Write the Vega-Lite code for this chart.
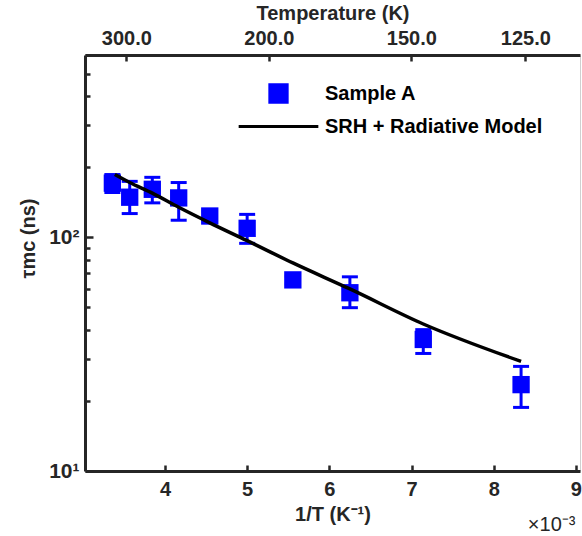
{
  "$schema": "https://vega.github.io/schema/vega-lite/v6.json",
  "width": 495,
  "height": 416,
  "autosize": "none",
  "padding": {"left": 85, "top": 55, "right": 2, "bottom": 65},
  "background": "white",
  "config": {
    "view": {"stroke": "#d0d0d0", "strokeWidth": 1},
    "font": "Liberation Sans",
    "axis": {
      "domainColor": "#262626", "domainWidth": 3, "tickColor": "#262626", "tickWidth": 2.5,
      "labelColor": "#262626", "labelFont": "Liberation Sans", "labelFontWeight": "bold", "labelFontSize": 20,
      "titleColor": "#262626", "titleFont": "Liberation Sans", "titleFontWeight": "bold", "titleFontSize": 20,
      "grid": false
    }
  },
  "title": {"text": "×10⁻³", "orient": "bottom", "anchor": "end", "fontSize": 20, "fontWeight": "normal", "color": "#262626", "offset": -9, "dx": -6},
  "datasets": {
    "sample": [
      {"invT": 3.36, "tau": 170, "lo": 155, "hi": 185, "series": "Sample A"},
      {"invT": 3.571, "tau": 148, "lo": 126, "hi": 173, "series": "Sample A"},
      {"invT": 3.846, "tau": 160, "lo": 140, "hi": 180, "series": "Sample A"},
      {"invT": 4.167, "tau": 147, "lo": 118, "hi": 171, "series": "Sample A"},
      {"invT": 4.545, "tau": 123, "lo": 117, "hi": 129, "series": "Sample A"},
      {"invT": 5.0, "tau": 109, "lo": 94, "hi": 125, "series": "Sample A"},
      {"invT": 5.556, "tau": 65.6, "lo": 63, "hi": 68, "series": "Sample A"},
      {"invT": 6.25, "tau": 57.8, "lo": 49.9, "hi": 67.6, "series": "Sample A"},
      {"invT": 7.143, "tau": 36.5, "lo": 31.8, "hi": 40.2, "series": "Sample A"},
      {"invT": 8.333, "tau": 23.4, "lo": 18.7, "hi": 28.0, "series": "Sample A"}
    ],
    "model": [
      {"invT": 3.39, "tau": 185, "series": "SRH + Radiative Model"},
      {"invT": 3.571, "tau": 171, "series": "SRH + Radiative Model"},
      {"invT": 3.846, "tau": 154, "series": "SRH + Radiative Model"},
      {"invT": 4.167, "tau": 134, "series": "SRH + Radiative Model"},
      {"invT": 4.545, "tau": 115, "series": "SRH + Radiative Model"},
      {"invT": 5.0, "tau": 96.5, "series": "SRH + Radiative Model"},
      {"invT": 5.556, "tau": 77.5, "series": "SRH + Radiative Model"},
      {"invT": 6.25, "tau": 60, "series": "SRH + Radiative Model"},
      {"invT": 7.143, "tau": 42.5, "series": "SRH + Radiative Model"},
      {"invT": 8.333, "tau": 29.4, "series": "SRH + Radiative Model"}
    ],
    "topticks": [
      {"invT": 3.3333, "T": 300},
      {"invT": 5.0, "T": 200},
      {"invT": 6.6667, "T": 150},
      {"invT": 8.0, "T": 125}
    ]
  },
  "layer": [
    {
      "layer": [
        {
          "data": {"name": "sample"},
          "mark": {"type": "rule", "strokeWidth": 3, "color": "#0000ff"},
          "encoding": {
            "x": {"field": "invT", "type": "quantitative"},
            "y": {"field": "lo", "type": "quantitative"},
            "y2": {"field": "hi"}
          }
        },
        {
          "data": {"name": "sample"},
          "mark": {"type": "tick", "orient": "horizontal", "size": 16, "thickness": 3, "color": "#0000ff", "opacity": 1},
          "encoding": {
            "x": {"field": "invT", "type": "quantitative"},
            "y": {"field": "lo", "type": "quantitative"}
          }
        },
        {
          "data": {"name": "sample"},
          "mark": {"type": "tick", "orient": "horizontal", "size": 16, "thickness": 3, "color": "#0000ff", "opacity": 1},
          "encoding": {
            "x": {"field": "invT", "type": "quantitative"},
            "y": {"field": "hi", "type": "quantitative"}
          }
        },
        {
          "data": {"name": "sample"},
          "mark": {"type": "point", "shape": "square", "filled": true, "size": 300, "opacity": 1, "strokeWidth": 0},
          "encoding": {
            "x": {"field": "invT", "type": "quantitative"},
            "y": {"field": "tau", "type": "quantitative"},
            "color": {"field": "series", "type": "nominal"}
          }
        },
        {
          "data": {"name": "model"},
          "mark": {"type": "line", "strokeWidth": 3.5, "interpolate": "monotone"},
          "encoding": {
            "x": {"field": "invT", "type": "quantitative",
              "scale": {"domain": [3.027, 9.05], "nice": false, "zero": false},
              "axis": {"orient": "bottom", "values": [4, 5, 6, 7, 8, 9], "format": "d", "tickSize": -6, "labelPadding": 14, "title": "1/T (K⁻¹)", "titlePadding": 5}
            },
            "y": {"field": "tau", "type": "quantitative",
              "scale": {"type": "log", "domain": [10, 600], "nice": false},
              "axis": {"values": [10, 20, 30, 40, 50, 60, 70, 80, 90, 100, 200, 300, 400, 500, 600],
                "labelExpr": "datum.value == 10 ? '10¹' : datum.value == 100 ? '10²' : ''",
                "tickSize": {"condition": {"test": "datum.value == 10 || datum.value == 100", "value": -8}, "value": -5},
                "labelPadding": 14, "labelFontSize": 21,
                "title": "τmc (ns)", "titlePadding": 10, "titleY": 183}
            },
            "color": {"field": "series", "type": "nominal",
              "scale": {"domain": ["Sample A", "SRH + Radiative Model"], "range": ["#0000ff", "#000000"]},
              "legend": {
                "title": null, "orient": "none", "legendX": 183, "legendY": 28,
                "labelFont": "Liberation Sans", "labelFontWeight": "bold", "labelFontSize": 20, "labelColor": "#000000", "labelLimit": 400,
                "symbolSize": 300, "labelOffset": 36, "rowPadding": 7,
                "encode": {
                  "symbols": {"update": {
                    "shape": {"signal": "datum.value === 'Sample A' ? 'square' : 'M-4.6,0H4.6'"},
                    "fill": {"signal": "datum.value === 'Sample A' ? '#0000ff' : 'transparent'"},
                    "stroke": {"signal": "datum.value === 'Sample A' ? 'transparent' : '#000000'"},
                    "strokeWidth": {"value": 3},
                    "opacity": {"value": 1}
                  }}
                }
              }
            }
          }
        }
      ]
    },
    {
      "data": {"name": "topticks"},
      "mark": {"type": "point", "opacity": 0},
      "encoding": {
        "x": {"field": "invT", "type": "quantitative",
          "scale": {"domain": [2.849, 8.64], "nice": false, "zero": false},
          "axis": {"orient": "top", "values": [3.3333, 5, 6.6667, 8], "labelExpr": "format(1000 / datum.value, '.1f')",
            "tickSize": -6, "labelPadding": 13, "title": "Temperature (K)", "titlePadding": 5}
        }
      }
    }
  ],
  "resolve": {"scale": {"x": "independent"}, "axis": {"x": "independent"}}
}
